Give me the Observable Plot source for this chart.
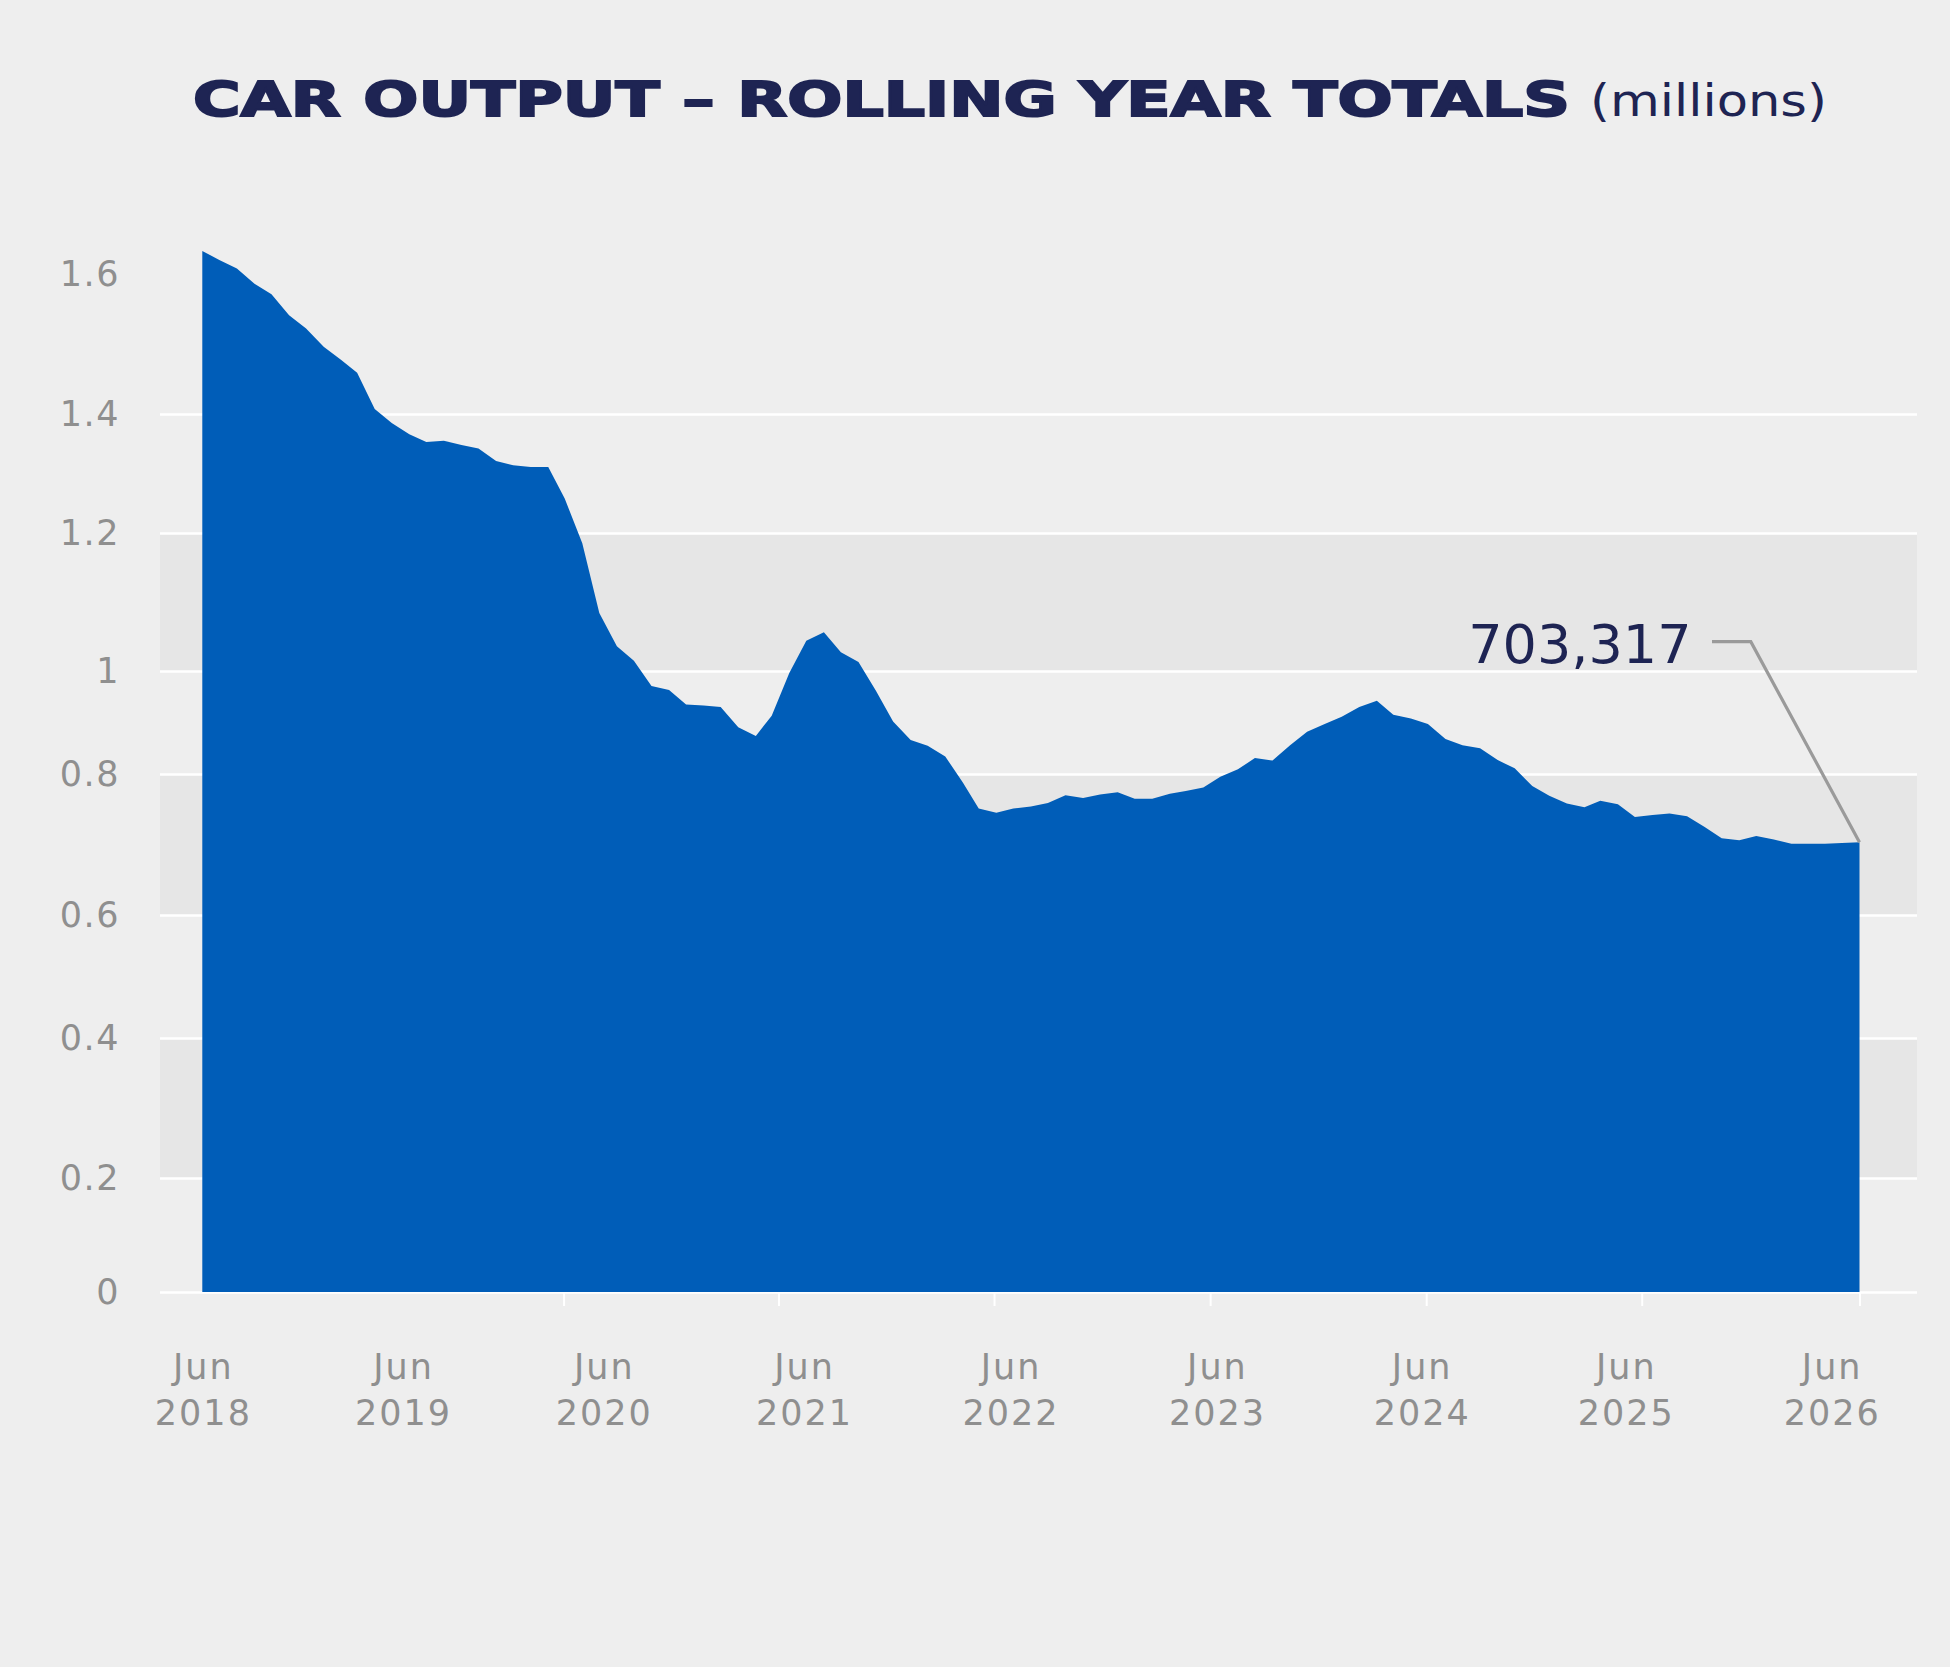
<!DOCTYPE html>
<html>
<head>
<meta charset="utf-8">
<script src="https://cdn.jsdelivr.net/npm/d3@7"></script>
<script src="https://cdn.jsdelivr.net/npm/@observablehq/plot@0.6"></script>
<style>
  html, body { margin: 0; padding: 0; background: #eeeeee; }
  #title { position: relative; width: 1950px; height: 160px; }
  #title span { position: absolute; white-space: nowrap; line-height: 1; color: #1e2453; font-family: "DejaVu Sans", sans-serif; transform-origin: 0 0; }
  #t1 { left: 193px; top: 75px; font-size: 48px; font-weight: bold; -webkit-text-stroke: 2px #1e2453; }
  #t2 { left: 1590px; top: 78px; font-size: 45px; font-weight: normal; }
  svg { display: block; }
  svg [aria-label="x-axis tick label"] text { letter-spacing: 2px; }
  svg [aria-label="y-axis tick label"] text { letter-spacing: 1.5px; }
</style>
</head>
<body>
<div id="title"><span id="t1">CAR OUTPUT – ROLLING YEAR TOTALS</span><span id="t2">(millions)</span></div>
<script>
// ---- data ----
const startMonth = "2018-06-01";
const endMonth = "2026-06-01";
const values = [
  1.633, 1.620, 1.608, 1.586, 1.571, 1.541, 1.522, 1.496, 1.477, 1.459,
  1.407, 1.385, 1.366, 1.353, 1.355, 1.348, 1.342, 1.321, 1.314, 1.311,
  1.311, 1.258, 1.185, 1.084, 1.036, 1.015, 0.971, 0.963, 0.935, 0.933,
  0.930, 0.891, 0.874, 0.913, 0.996, 1.044, 1.056, 1.027, 1.013, 0.961,
  0.902, 0.866, 0.855, 0.834, 0.788, 0.751, 0.745, 0.751, 0.754, 0.759,
  0.770, 0.766, 0.771, 0.774, 0.765, 0.765, 0.772, 0.776, 0.781, 0.796,
  0.809, 0.831, 0.826, 0.856, 0.882, 0.897, 0.911, 0.930, 0.942, 0.915,
  0.908, 0.897, 0.868, 0.856, 0.850, 0.827, 0.811, 0.783, 0.769, 0.758,
  0.753, 0.762, 0.757, 0.739, 0.742, 0.744, 0.740, 0.725, 0.709, 0.706,
  0.712, 0.707, 0.701, 0.701, 0.701, 0.702, 0.703317
];
const yTicks = [0, 0.2, 0.4, 0.6, 0.8, 1, 1.2, 1.4, 1.6];
const yTickLabels = ["0", "0.2", "0.4", "0.6", "0.8", "1", "1.2", "1.4", "1.6"];
const gridValues = [0, 0.2, 0.4, 0.6, 0.8, 1, 1.2, 1.4];
const bandLows = [0.2, 0.6, 1.0];
const bandHighs = [0.4, 0.8, 1.2];
const xLabelDates = ["2018-06-02", "2019-05-21", "2020-05-09", "2021-04-27", "2022-04-26", "2023-04-25", "2024-04-20", "2025-04-15", "2026-04-13"];
const xTickLabels = ["Jun\n2018", "Jun\n2019", "Jun\n2020", "Jun\n2021", "Jun\n2022", "Jun\n2023", "Jun\n2024", "Jun\n2025", "Jun\n2026"];
const xTickDates = ["2020-02-28", "2021-03-13", "2022-03-28", "2023-04-13", "2024-04-28", "2025-05-13", "2026-06-01"];

// ---- build table ----
const start = new Date(startMonth + "T00:00:00Z");
const end = new Date(endMonth + "T00:00:00Z");
const months = d3.utcMonth.range(start, d3.utcMonth.offset(end, 1));
const data = values.map((v, i) => ({date: months[i], value: v}));
const bands = bandLows.map((lo, i) => ({lo, hi: bandHighs[i]}));
const labelDates = xLabelDates.map(s => new Date(s + "T00:00:00Z"));
const tickDates = xTickDates.map(s => new Date(s + "T00:00:00Z"));
const last = data[data.length - 1];
const annotation = d3.format(",")(Math.round(last.value * 1e6));

// ---- layout / style ----
const TITLE_H = 160;
const W = 1950, H = 1667 - TITLE_H;
const navy = "#1e2453", gray = "#8f8f8f", blue = "#005db8";
const yRange = [1292, 1178, 1038, 915, 774, 671, 533, 414, 274].map(v => v - TITLE_H);

function leader(index, scales) {
  const x = scales.x(last.date), y = scales.y(last.value);
  const ns = "http://www.w3.org/2000/svg";
  const g = document.createElementNS(ns, "g");
  const p = document.createElementNS(ns, "path");
  p.setAttribute("d", `M${x},${y}L${x - 108.7},${y - 200.5}L${x - 147.5},${y - 200.5}`);
  p.setAttribute("fill", "none");
  p.setAttribute("stroke", "#9a9a9a");
  p.setAttribute("stroke-width", "3.2");
  g.appendChild(p);
  return g;
}

const chart = Plot.plot({
  width: W,
  height: H,
  marginLeft: 160,
  marginRight: 33,
  marginTop: 20,
  marginBottom: H - yRange[0],
  style: {background: "transparent", fontFamily: "DejaVu Sans, sans-serif", overflow: "visible"},
  x: {type: "utc", domain: [start, end], range: [202.3, 1859.5]},
  y: {type: "linear", domain: yTicks, range: yRange},
  marks: [
    Plot.rect(bands, {y1: "lo", y2: "hi", fill: "#e6e6e6"}),
    Plot.ruleY(gridValues, {stroke: "#ffffff", strokeWidth: 2.7}),
    Plot.areaY(data, {x: "date", y: "value", fill: blue, curve: "linear"}),
    Plot.axisY({
      ticks: yTicks,
      tickFormat: d => yTickLabels[yTicks.indexOf(d)],
      tickSize: 0, tickPadding: 40.5,
      fontSize: 35, fill: gray, label: null
    }),
    Plot.axisX({
      ticks: labelDates,
      tickFormat: d => xTickLabels[labelDates.findIndex(t => +t === +d)],
      tickSize: 0, tickPadding: 53,
      fontSize: 35, lineHeight: 1.33, fill: gray, label: null
    }),
    Plot.axisX({
      ticks: tickDates, tickSize: 14, stroke: "#ffffff", strokeWidth: 2,
      fill: "none", label: null
    }),
    leader,
    Plot.text([last], {
      x: "date", y: "value", text: () => annotation,
      dx: -168.5, dy: -179.5, textAnchor: "end", lineAnchor: "bottom",
      fontSize: 54, fill: navy
    })
  ]
});
document.body.appendChild(chart);

// fit the title pieces to their measured widths in the reference
function fit(id, target) {
  const el = document.getElementById(id);
  const w = el.getBoundingClientRect().width;
  el.style.transform = `scaleX(${target / w})`;
}
fit("t1", 1377);
fit("t2", 237);
</script>
</body>
</html>
